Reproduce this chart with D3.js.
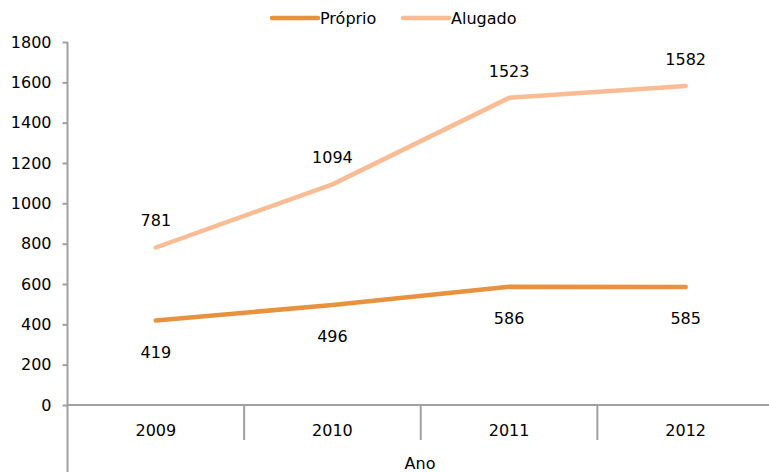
<!DOCTYPE html>
<html><head><meta charset="utf-8">
<script src="https://cdn.jsdelivr.net/npm/d3@7"></script>
<style>body{margin:0;background:#fff}svg{display:block}text{font-family:"DejaVu Sans",sans-serif;font-size:16px;fill:#000}</style>
</head><body><svg width="769" height="472"></svg>
<script>
const categories = ["2009","2010","2011","2012"];
const proprio = [419,496,586,585];
const alugado = [781,1094,1523,1582];
const yTicks = [0,200,400,600,800,1000,1200,1400,1600,1800];
const seriesNames = ["Próprio","Alugado"];
const colors = ["#E8923F","#F9BC94"];

const svg = d3.select("svg");
const x = d3.scaleBand().domain(categories).range([67.5, 774]);
const y = d3.scaleLinear().domain([0,1800]).range([405, 42]);
const axisColor = "#a0a0a0";

// y axis
const ya = svg.append("g").attr("transform","translate(67.5,0)")
  .call(d3.axisLeft(y).tickValues(yTicks).tickSize(5).tickPadding(11).tickFormat(d3.format("d")));
ya.select(".domain").remove();
ya.selectAll("line").attr("stroke",axisColor).attr("stroke-width",2);
ya.selectAll("text").style("font-size","16px").style("font-family","'DejaVu Sans',sans-serif");
svg.append("line").attr("x1",67.5).attr("x2",67.5).attr("y1",y(1800)).attr("y2",472).attr("stroke",axisColor).attr("stroke-width",2);

// x axis
svg.append("line").attr("x1",67.5).attr("x2",769).attr("y1",y(0)).attr("y2",y(0)).attr("stroke",axisColor).attr("stroke-width",2);
categories.slice(1).forEach(c=>{
  svg.append("line").attr("x1",x(c)).attr("x2",x(c)).attr("y1",y(0)).attr("y2",440).attr("stroke",axisColor).attr("stroke-width",2);
});
svg.append("g").selectAll("text").data(categories).join("text")
  .attr("x",d=>x(d)+x.bandwidth()/2).attr("y",436).attr("text-anchor","middle").text(d=>d);
svg.append("text").attr("x",420).attr("y",469).attr("text-anchor","middle").text("Ano");

const line = d3.line().x((d,i)=>x(categories[i])+x.bandwidth()/2).y(d=>y(d));
[proprio, alugado].forEach((s,k)=>{
  svg.append("path").datum(s).attr("d",line).attr("fill","none").attr("stroke",colors[k]).attr("stroke-width",4.5).attr("stroke-linecap","round").attr("stroke-linejoin","round");
});
// labels
svg.append("g").selectAll("text").data(alugado).join("text")
  .attr("x",(d,i)=>x(categories[i])+x.bandwidth()/2).attr("y",d=>y(d)-21).attr("text-anchor","middle").text(d=>d);
svg.append("g").selectAll("text").data(proprio).join("text")
  .attr("x",(d,i)=>x(categories[i])+x.bandwidth()/2).attr("y",d=>y(d)+37).attr("text-anchor","middle").text(d=>d);

// legend
const lx = [272, 403];
seriesNames.forEach((n,k)=>{
  svg.append("line").attr("x1",lx[k]).attr("x2",lx[k]+46).attr("y1",18).attr("y2",18).attr("stroke",colors[k]).attr("stroke-width",4.5).attr("stroke-linecap","round");
  svg.append("text").attr("x",lx[k]+48).attr("y",24).text(n);
});
</script></body></html>
